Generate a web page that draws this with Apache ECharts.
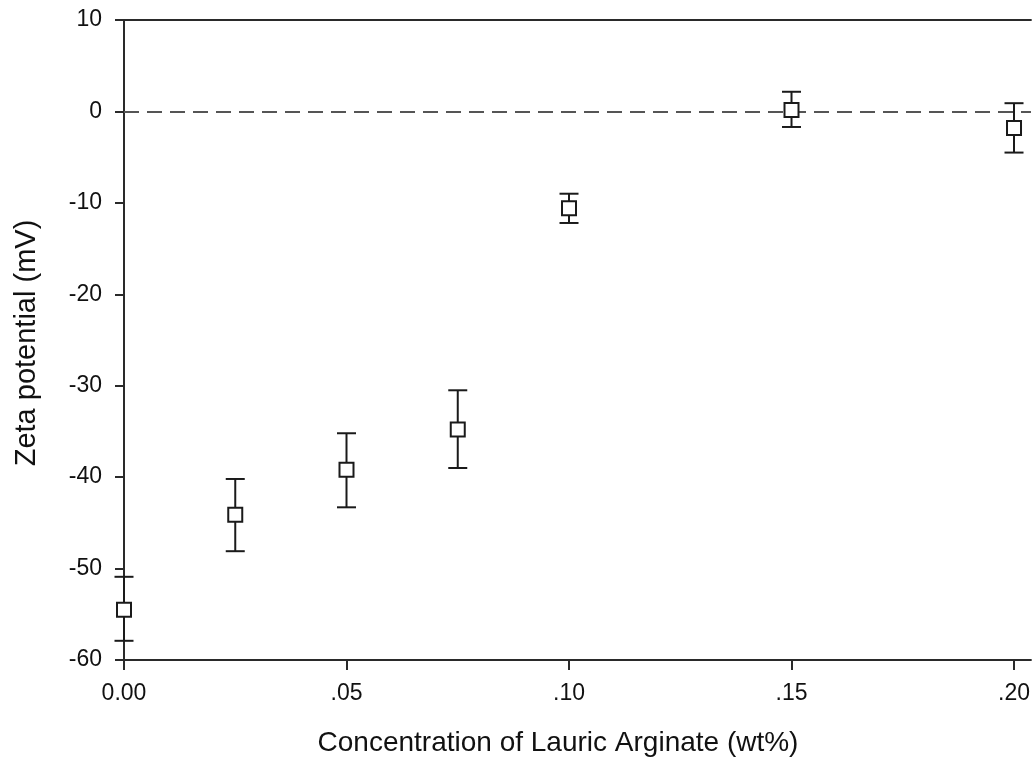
<!DOCTYPE html>
<html>
<head>
<meta charset="utf-8">
<title>Zeta potential vs Lauric Arginate</title>
<script src="https://cdn.jsdelivr.net/npm/echarts@6/dist/echarts.min.js"></script>
<style>
  html, body { margin: 0; padding: 0; background: #fff; }
  #chart { width: 1033px; height: 767px; }
</style>
</head>
<body>
<div id="chart"></div>
<script>
// Lauric arginate concentration (wt%)
const concentrations = [0, 0.025, 0.05, 0.075, 0.10, 0.15, 0.20];
// Mean zeta potential (mV)
const zetaMean = [-54.5, -44.1, -39.2, -34.8, -10.6, 0.15, -1.8];
// Error bar ends (mV)
const errUpper = [-50.9, -40.2, -35.2, -30.5, -9.0, 2.15, 0.9];
const errLower = [-57.9, -48.1, -43.3, -39.0, -12.2, -1.7, -4.5];
// Axis tick values and labels
const xTickValues = [0, 0.05, 0.10, 0.15, 0.20];
const xTickLabels = ['0.00', '.05', '.10', '.15', '.20'];
const yTicks = [-60, -50, -40, -30, -20, -10, 0, 10];

const chart = echarts.init(document.getElementById('chart'));
const FONT = '"Liberation Sans", Arial, sans-serif';
const AXIS_COLOR = '#2a2a2a';

const markerData = concentrations.map((c, i) => [c, zetaMean[i]]);
const errorData = concentrations.map((c, i) => [c, errLower[i], errUpper[i]]);

const option = {
  backgroundColor: '#fff',
  animation: false,
  grid: { left: 124, right: 0, top: 20, bottom: 107 },
  xAxis: [{
    type: 'value',
    min: 0,
    max: 0.20381,
    position: 'bottom',
    splitLine: { show: false },
    axisLine: { show: true, onZero: false, lineStyle: { color: AXIS_COLOR, width: 2 } },
    axisTick: {
      show: true, inside: false, length: 10,
      customValues: xTickValues,
      lineStyle: { color: AXIS_COLOR, width: 2 }
    },
    axisLabel: {
      show: true,
      customValues: xTickValues,
      margin: 22,
      color: '#111',
      fontFamily: FONT,
      fontSize: 23,
      formatter: v => {
        const i = xTickValues.findIndex(t => Math.abs(t - v) < 1e-9);
        return i >= 0 ? xTickLabels[i] : '';
      }
    }
  }, {
    type: 'value',
    min: 0,
    max: 0.20381,
    position: 'top',
    splitLine: { show: false },
    axisLine: { show: true, onZero: false, lineStyle: { color: AXIS_COLOR, width: 2 } },
    axisTick: { show: false },
    axisLabel: { show: false }
  }],
  yAxis: {
    type: 'value',
    min: -60,
    max: 10,
    interval: 10,
    splitLine: { show: false },
    axisLine: { show: true, onZero: false, lineStyle: { color: AXIS_COLOR, width: 2 } },
    axisTick: {
      show: true, inside: false, length: 9,
      customValues: yTicks,
      lineStyle: { color: AXIS_COLOR, width: 2 }
    },
    axisLabel: {
      show: true,
      customValues: yTicks,
      margin: 22,
      color: '#111',
      fontFamily: FONT,
      fontSize: 23
    }
  },
  graphic: [{
    type: 'text',
    x: 27,
    y: 343,
    rotation: Math.PI / 2,
    style: {
      text: 'Zeta potential (mV)',
      fill: '#111',
      font: '29px ' + FONT,
      textAlign: 'center',
      textVerticalAlign: 'middle'
    }
  }, {
    type: 'text',
    x: 558,
    y: 743,
    style: {
      text: 'Concentration of Lauric Arginate (wt%)',
      fill: '#111',
      font: '28px ' + FONT,
      textAlign: 'center',
      textVerticalAlign: 'middle'
    }
  }],
  series: [{
    // Vertical error bars with end caps
    type: 'custom',
    z: 2,
    data: errorData,
    renderItem: (params, api) => {
      const x = api.value(0);
      const lo = api.coord([x, api.value(1)]);
      const hi = api.coord([x, api.value(2)]);
      const half = 9.5;
      const style = { stroke: '#1a1a1a', lineWidth: 2, fill: null };
      return {
        type: 'group',
        children: [
          { type: 'line', shape: { x1: lo[0], y1: lo[1], x2: hi[0], y2: hi[1] }, style },
          { type: 'line', shape: { x1: hi[0] - half, y1: hi[1], x2: hi[0] + half, y2: hi[1] }, style },
          { type: 'line', shape: { x1: lo[0] - half, y1: lo[1], x2: lo[0] + half, y2: lo[1] }, style }
        ]
      };
    }
  }, {
    // Mean values as open squares, plus the zero reference line
    type: 'scatter',
    z: 3,
    symbol: 'rect',
    symbolSize: 14,
    itemStyle: { color: '#fff', borderColor: '#1a1a1a', borderWidth: 2, opacity: 1 },
    data: markerData,
    markLine: {
      silent: true,
      symbol: ['none', 'none'],
      label: { show: false },
      z: 1,
      lineStyle: { color: '#555', width: 2, type: [15, 8] },
      data: [{ yAxis: 0 }]
    }
  }]
};

chart.setOption(option);
</script>
</body>
</html>
